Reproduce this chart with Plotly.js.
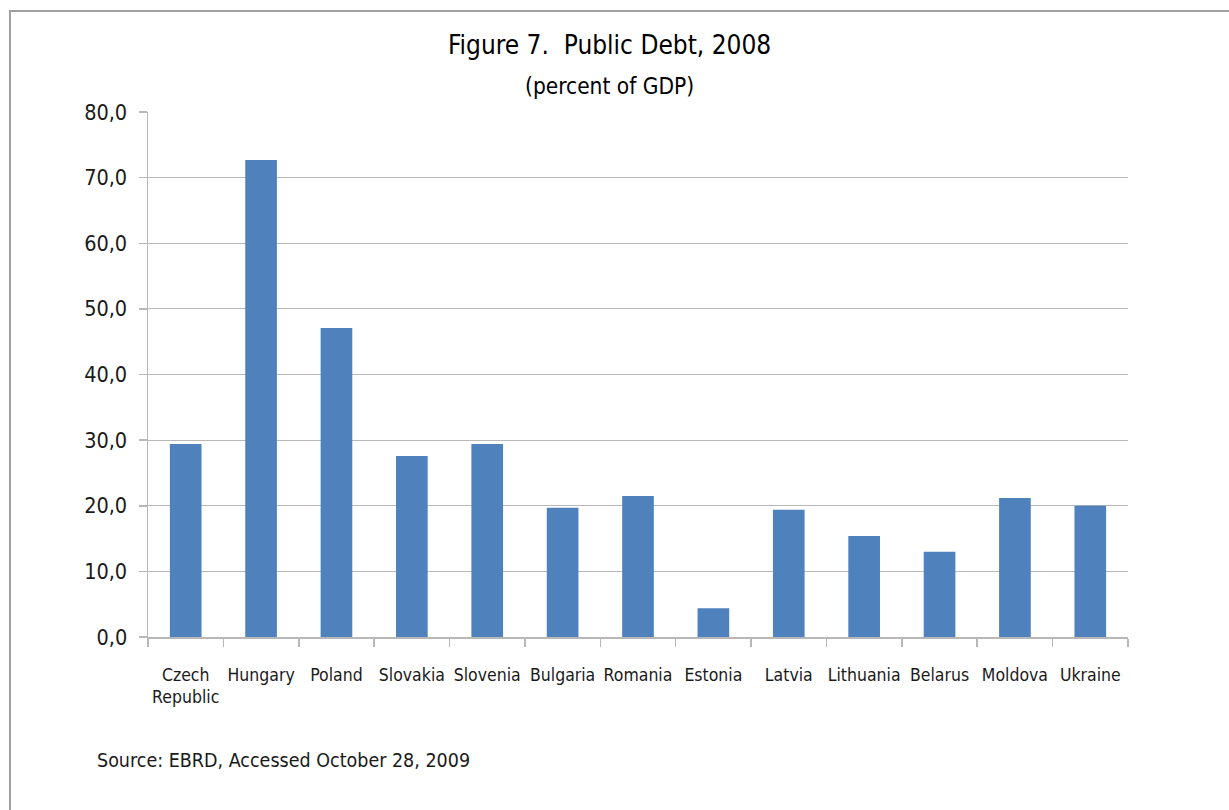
<!DOCTYPE html>
<html>
<head>
<meta charset="utf-8">
<script src="https://cdn.plot.ly/plotly-3.0.1.min.js"></script>
<style>
html,body{margin:0;padding:0;background:#fff;}
#frame{position:absolute;left:9px;top:10px;width:1300px;height:900px;border-left:2px solid #a0a0a0;border-top:2px solid #a0a0a0;}
#chart{position:absolute;left:0;top:0;width:1229px;height:810px;}
</style>
</head>
<body>
<div id="frame"></div>
<div id="chart"></div>
<script>
const countries = ["Czech<br>Republic","Hungary","Poland","Slovakia","Slovenia","Bulgaria","Romania","Estonia","Latvia","Lithuania","Belarus","Moldova","Ukraine"];
const debt = [29.4, 72.7, 47.1, 27.6, 29.4, 19.7, 21.5, 4.4, 19.4, 15.4, 13.0, 21.2, 20.0];
const yTickVals = [0,10,20,30,40,50,60,70,80];
const yTickText = ["0,0","10,0","20,0","30,0","40,0","50,0","60,0","70,0","80,0"];
const titleText = "Figure 7.  Public Debt, 2008";
const subtitleText = "(percent of GDP)";
const sourceText = "Source: EBRD, Accessed October 28, 2009";

const FONT = "'DejaVu Sans Condensed','Liberation Sans',sans-serif";

const data = [{
  type: "bar",
  x: countries,
  y: debt,
  marker: {color: "#4F81BD"},
  width: 0.42,
  hoverinfo: "x+y"
}];

const layout = {
  width: 1229, height: 810,
  paper_bgcolor: "rgba(0,0,0,0)",
  plot_bgcolor: "rgba(0,0,0,0)",
  margin: {l: 148, r: 101, t: 112, b: 173},
  showlegend: false,
  font: {family: FONT, color: "#1a1a1a"},
  xaxis: {
    type: "category",
    showline: true, linecolor: "#b8b8b8", linewidth: 1.5,
    ticks: "outside", tickson: "boundaries", ticklen: 8, tickcolor: "#b8b8b8", tickwidth: 1.5,
    tickfont: {family: FONT, size: 17.5, color: "#1a1a1a"},
    tickangle: 0,
    ticklabelstandoff: 21,
    showgrid: false,
    fixedrange: true
  },
  yaxis: {
    range: [0, 80],
    tickvals: yTickVals, ticktext: yTickText,
    showline: true, linecolor: "#b8b8b8", linewidth: 1.5,
    ticks: "outside", ticklen: 8, tickcolor: "#b8b8b8", tickwidth: 1.5,
    showgrid: true, gridcolor: "#b8b8b8", gridwidth: 1,
    zeroline: false,
    tickfont: {family: FONT, size: 21.5, color: "#1a1a1a"},
    ticklabelstandoff: 7,
    fixedrange: true
  },
  annotations: [
    {text: titleText, xref: "paper", yref: "paper", x: 0.471, y: 1.128, xanchor: "center", yanchor: "middle", showarrow: false,
     font: {family: FONT, size: 26, color: "#000"}},
    {text: subtitleText, xref: "paper", yref: "paper", x: 0.471, y: 1.05, xanchor: "center", yanchor: "middle", showarrow: false,
     font: {family: FONT, size: 22.5, color: "#000"}},
    {text: sourceText, xref: "paper", yref: "paper", x: -0.054, y: -0.235, xanchor: "left", yanchor: "middle", showarrow: false,
     font: {family: FONT, size: 19.5, color: "#1a1a1a"}}
  ]
};

Plotly.newPlot("chart", data, layout, {displayModeBar: false, staticPlot: true});
</script>
</body>
</html>
